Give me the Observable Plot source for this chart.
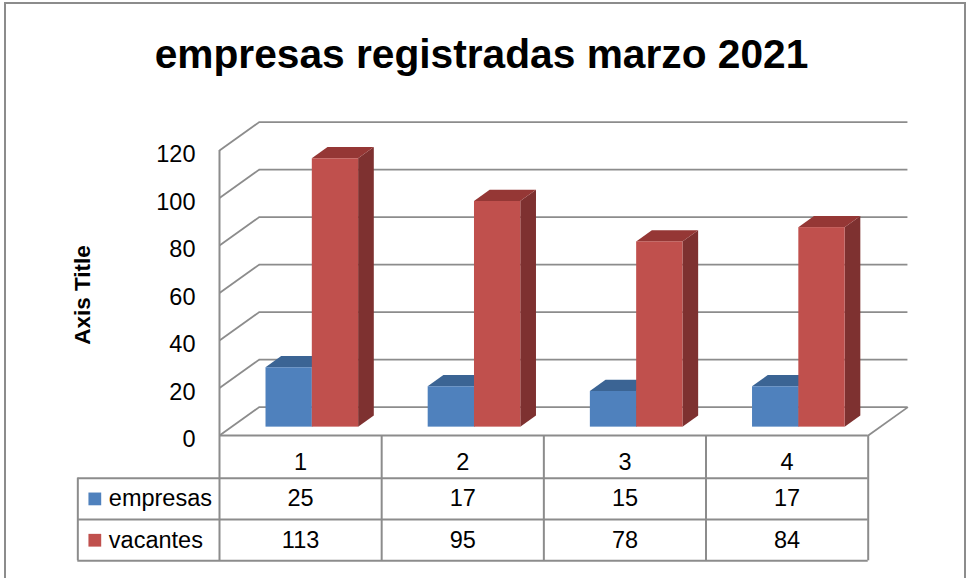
<!DOCTYPE html>
<html>
<head>
<meta charset="utf-8">
<script src="https://cdn.jsdelivr.net/npm/d3@7"></script>
<script src="https://cdn.jsdelivr.net/npm/@observablehq/plot@0.6"></script>
<style>
  html, body { margin: 0; padding: 0; overflow: hidden; background: #fff; width: 967px; height: 578px; }
  body { font-family: "Liberation Sans", Arial, sans-serif; position: relative; }
  #frame { position: absolute; left: 4px; top: 2px; width: 962px; height: 700px; border: 2px solid #8c8c8c; box-sizing: border-box; }
  #title { position: absolute; left: -2px; top: 30px; width: 967px; text-align: center; font-size: 40.7px; line-height: 48px; font-weight: bold; color: #000; }
  #chart { position: absolute; left: 0; top: 100px; }
</style>
</head>
<body>
<div id="frame"></div>
<div id="title"></div>
<div id="chart"></div>
<script>
// ---- data ----
const TITLE = "empresas registradas marzo 2021";
const AXIS_TITLE = "Axis Title";
const CATEGORIES = ["1", "2", "3", "4"];
const SERIES = ["empresas", "vacantes"];
const EMPRESAS = [25, 17, 15, 17];
const VACANTES = [113, 95, 78, 84];
const Y_TICKS = [0, 20, 40, 60, 80, 100, 120];

// ---- styles ----
const FRONT = {empresas: "#4f81bd", vacantes: "#c0504d"};
const TOP = {empresas: "#3b6494", vacantes: "#953735"};
const SIDE = {empresas: "#385d8a", vacantes: "#7e3130"};
const GRID = "#8c8c8c";
const FONT = "'Liberation Sans', Arial, sans-serif";

document.getElementById("title").textContent = TITLE;

// ---- 3D projection helpers (depth expressed in scale units) ----
const N = CATEGORIES.length;
const DX = 0.245;   // x units per full depth
const DY = 11.95;   // y units per full depth
const D1 = 0.295;   // bar front face depth
const D2 = 0.69;    // bar back face depth
const BW = 0.2855;  // bar width (x units)

const valuesBySeries = {empresas: EMPRESAS, vacantes: VACANTES};
const bars = [];
SERIES.forEach((s, si) => {
  CATEGORIES.forEach((c, i) => {
    const center = i + 0.5;
    const x0 = si === 0 ? center - BW : center;
    const x1 = x0 + BW;
    bars.push({series: s, cat: c, value: valuesBySeries[s][i], x0, x1, id: s + c});
  });
});

function faces(s) {
  const b = bars.filter(d => d.series === s);
  const top = b.flatMap(d => [
    {id: d.id, y: d.value + D1 * DY, xa: d.x0 + D1 * DX, xb: d.x1 + D1 * DX},
    {id: d.id, y: d.value + D2 * DY, xa: d.x0 + D2 * DX, xb: d.x1 + D2 * DX}
  ]);
  const side = b.flatMap(d => [
    {id: d.id, x: d.x1 + D1 * DX, ya: D1 * DY, yb: d.value + D1 * DY},
    {id: d.id, x: d.x1 + D2 * DX, ya: D2 * DY, yb: d.value + D2 * DY}
  ]);
  return [
    Plot.areaY(side, {x: "x", y1: "ya", y2: "yb", z: "id", fill: SIDE[s]}),
    Plot.areaX(top, {y: "y", x1: "xa", x2: "xb", z: "id", fill: TOP[s]}),
    Plot.rect(b, {x1: d => d.x0 + D1 * DX, x2: d => d.x1 + D1 * DX, y1: D1 * DY, y2: d => d.value + D1 * DY, fill: FRONT[s]})
  ];
}

// ---- data table layout (in y units below the floor) ----
const ROW_EDGES = [0, -17.98, -35.37, -52.76];
const TABLE_LEFT = -0.8736;
const HEADER_Y = -11.24;
const ROW_Y = [-26.7, -44.1];

const tableRows = [];
SERIES.forEach((s, si) => CATEGORIES.forEach((c, i) => tableRows.push({x: i + 0.5, y: ROW_Y[si], label: String(valuesBySeries[s][i])})));
const seriesRows = SERIES.map((s, si) => ({series: s, y: ROW_Y[si]}));

const chart = Plot.plot({
  width: 967,
  height: 478,
  margin: 0,
  x: {domain: [0, N], range: [219, 867.7], axis: null},
  y: {domain: [0, 120], range: [335, 50], axis: null},
  style: {fontFamily: FONT, color: "#000", background: "transparent"},
  marks: [
    // back wall gridlines
    Plot.ruleY(Y_TICKS, {y: t => t + DY, x1: DX, x2: N + DX, stroke: GRID, strokeWidth: 1.8}),
    // left wall gridlines
    Plot.link(Y_TICKS, {x1: 0, y1: t => t, x2: DX, y2: t => t + DY, stroke: GRID, strokeWidth: 1.8}),
    // floor right edge
    Plot.link([0], {x1: N, y1: 0, x2: N + DX, y2: DY, stroke: GRID, strokeWidth: 1.8}),
    // front vertical axis line (continues into table)
    Plot.ruleX([0], {y1: ROW_EDGES[3], y2: 120, stroke: GRID, strokeWidth: 2}),
    // bars
    ...faces("empresas"),
    ...faces("vacantes"),
    // y tick labels
    Plot.text(Y_TICKS, {x: 0, y: t => t, text: t => String(t), dx: -24, dy: 4, textAnchor: "end", fontSize: 23.5}),
    // axis title
    Plot.text([AXIS_TITLE], {x: 0, y: 60, text: d => d, dx: -137, dy: 2, rotate: -90, fontSize: 22.5, fontWeight: "bold"}),
    // table horizontal lines
    Plot.ruleY([ROW_EDGES[0]], {x1: 0, x2: N, stroke: GRID, strokeWidth: 2}),
    Plot.ruleY(ROW_EDGES.slice(1), {x1: TABLE_LEFT, x2: N, stroke: GRID, strokeWidth: 2}),
    // table vertical lines
    Plot.ruleX(d3.range(1, N + 1), {y1: ROW_EDGES[0], y2: ROW_EDGES[3], stroke: GRID, strokeWidth: 2}),
    Plot.ruleX([TABLE_LEFT], {y1: ROW_EDGES[1], y2: ROW_EDGES[3], stroke: GRID, strokeWidth: 2}),
    // header labels
    Plot.text(CATEGORIES, {x: (d, i) => i + 0.5, y: HEADER_Y, text: d => d, fontSize: 23.5}),
    // values
    Plot.text(tableRows, {x: "x", y: "y", text: "label", fontSize: 23.5}),
    // legend keys and series names
    Plot.dot(seriesRows, {x: TABLE_LEFT, y: "y", dx: 17, symbol: "square", r: 7.2, fill: d => FRONT[d.series], stroke: null}),
    Plot.text(seriesRows, {x: TABLE_LEFT, y: "y", dx: 31, text: "series", textAnchor: "start", fontSize: 23.5})
  ]
});
document.getElementById("chart").appendChild(chart);
</script>
</body>
</html>
